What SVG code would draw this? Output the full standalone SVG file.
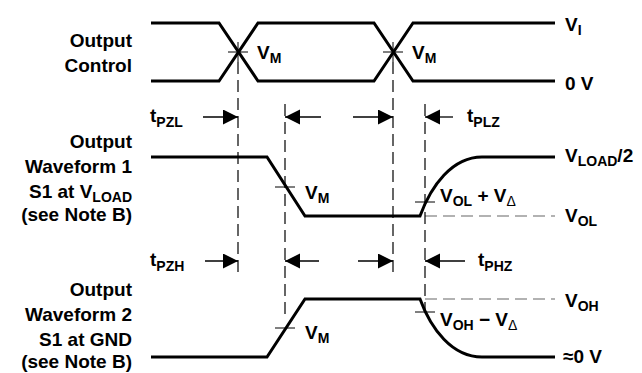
<svg xmlns="http://www.w3.org/2000/svg" width="642" height="373" viewBox="0 0 642 373">
<style>
text{font-family:"Liberation Sans",Arial,sans-serif;font-weight:bold;font-size:19px;fill:#000}
.s{font-size:14px}
.thin{font-weight:normal}
.wave{fill:none;stroke:#000;stroke-width:3;stroke-linejoin:miter}
.dash{fill:none;stroke:#000;stroke-width:1.2;stroke-dasharray:12,6}
.gdash{fill:none;stroke:#666;stroke-width:1.2;stroke-dasharray:12,6}
.tick{fill:none;stroke:#000;stroke-width:1}
.arr{fill:none;stroke:#000;stroke-width:1.3}
</style>
<defs>
<marker id="ah" markerUnits="userSpaceOnUse" markerWidth="16" markerHeight="16" refX="15" refY="7.5" orient="auto">
<path d="M0,0 L15,7.5 L0,15 Z" fill="#000"/>
</marker>
</defs>

<g id="labels-left">
<text x="132" y="47" text-anchor="end">Output</text>
<text x="132" y="72" text-anchor="end">Control</text>
<text x="132" y="148" text-anchor="end">Output</text>
<text x="132" y="173" text-anchor="end">Waveform 1</text>
<text x="132" y="198" text-anchor="end">S1 at V<tspan class="s" dy="4">LOAD</tspan></text>
<text x="132" y="221" text-anchor="end">(see Note B)</text>
<text x="132" y="296" text-anchor="end">Output</text>
<text x="132" y="321" text-anchor="end">Waveform 2</text>
<text x="132" y="346" text-anchor="end">S1 at GND</text>
<text x="132" y="368" text-anchor="end">(see Note B)</text>
</g>

<g id="output-control">
<path class="wave" d="M151,23 H219 L258,81 H374 L413,23 H555"/>
<path class="wave" d="M151,81 H219 L258,23 H374 L413,81 H555"/>
<path class="tick" d="M228,52 H248 M238,42 V62"/>
<path class="tick" d="M383,52 H403 M393,42 V62"/>
<text x="257" y="59">V<tspan class="s" dy="4">M</tspan></text>
<text x="412" y="59">V<tspan class="s" dy="4">M</tspan></text>
<text x="565" y="31">V<tspan class="s" dy="4">I</tspan></text>
<text x="565" y="90">0 V</text>
</g>

<g id="waveform-1">
<path class="gdash" d="M425,216 H555"/>
<path class="wave" d="M151,157 H267 L305,216 H420 C431,186 452,157 482,157 H555"/>
<path class="tick" d="M275,187 H295"/>
<path class="tick" d="M415,202 H435"/>
<text x="305" y="199">V<tspan class="s" dy="4">M</tspan></text>
<text x="440" y="202">V<tspan class="s" dy="4">OL</tspan><tspan dy="-4"> + V</tspan><tspan class="s thin" dy="4">Δ</tspan></text>
<text x="565" y="222">V<tspan class="s" dy="4">OL</tspan></text>
<text x="565" y="162">V<tspan class="s" dy="4">LOAD</tspan><tspan dy="-4">/2</tspan></text>
</g>

<g id="waveform-2">
<path class="gdash" d="M425,299 H555"/>
<path class="wave" d="M151,357 H267 L305,299 H420 C431,329 452,357 482,357 H555"/>
<path class="tick" d="M275,328 H295"/>
<path class="tick" d="M415,312 H435"/>
<text x="305" y="339">V<tspan class="s" dy="4">M</tspan></text>
<text x="440" y="326">V<tspan class="s" dy="4">OH</tspan><tspan dy="-4"> − V</tspan><tspan class="s thin" dy="4">Δ</tspan></text>
<text x="565" y="307">V<tspan class="s" dy="4">OH</tspan></text>
<text x="563" y="363">≈0 V</text>
</g>

<g id="timing">
<text x="150" y="122">t<tspan class="s" dy="5">PZL</tspan></text>
<text x="467" y="122">t<tspan class="s" dy="5">PLZ</tspan></text>
<text x="150" y="266">t<tspan class="s" dy="5">PZH</tspan></text>
<text x="478" y="266">t<tspan class="s" dy="5">PHZ</tspan></text>
</g>

<g id="connectors">
<path class="dash" d="M238,62 V272"/>
<path class="dash" d="M393,62 V272"/>
<path class="dash" d="M285,104 V318"/>
<path class="dash" d="M425,104 V310"/>
<line class="arr" x1="203" y1="117" x2="238" y2="117" marker-end="url(#ah)"/>
<line class="arr" x1="321" y1="117" x2="285" y2="117" marker-end="url(#ah)"/>
<line class="arr" x1="353" y1="117" x2="393" y2="117" marker-end="url(#ah)"/>
<line class="arr" x1="453" y1="117" x2="425" y2="117" marker-end="url(#ah)"/>
<line class="arr" x1="205" y1="261" x2="238" y2="261" marker-end="url(#ah)"/>
<line class="arr" x1="319" y1="261" x2="285" y2="261" marker-end="url(#ah)"/>
<line class="arr" x1="358" y1="261" x2="393" y2="261" marker-end="url(#ah)"/>
<line class="arr" x1="465" y1="261" x2="425" y2="261" marker-end="url(#ah)"/>
</g>
</svg>
